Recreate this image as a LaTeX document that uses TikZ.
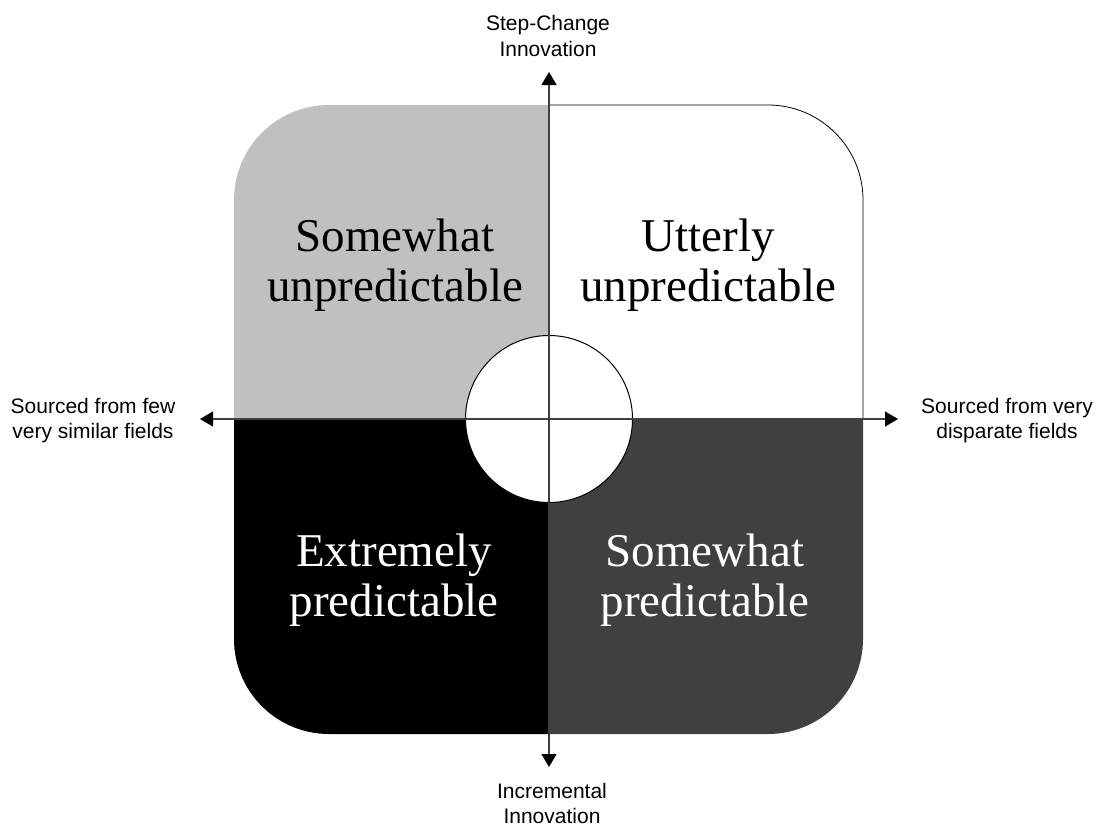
\documentclass[tikz,border=0pt]{standalone}
\usepackage{fontspec}
\setmainfont{Liberation Serif}
\newfontfamily\axisfont{Liberation Sans}
\usetikzlibrary{arrows.meta}
\definecolor{qlight}{HTML}{C0C0C0}
\definecolor{qdark}{HTML}{404040}
\definecolor{axisgray}{HTML}{404040}
\tikzset{
  quadtext/.style={align=center, anchor=base, font=\fontsize{47}{50}\selectfont, inner sep=0pt},
  axislabel/.style={align=center, anchor=base, font=\axisfont\fontsize{21}{25}\selectfont, inner sep=0pt},
  axisarrow/.style={draw=axisgray, line width=1.2pt, -{Triangle[width=15pt,length=13pt,fill=black,color=black]}},
  hub/.style={circle, draw=black, line width=1pt, fill=white, minimum size=167pt, inner sep=0pt}
}
\begin{document}
\begin{tikzpicture}[x=1pt, y=-1pt]
\useasboundingbox (0,0) rectangle (1099,827);
% quadrants
\fill[qlight] (549,419) -- (234,419) -- (234,200) arc[start angle=180, end angle=270, radius=95] -- (549,105) -- cycle;
\fill[white] (549,105) -- (768,105) arc[start angle=270, end angle=360, radius=95] -- (863,419) -- (549,419) -- cycle;
\draw[black, line width=0.8pt] (549,105) -- (768,105) arc[start angle=270, end angle=360, radius=95] -- (863,419);
\fill[black] (549,419) -- (234,419) -- (234,639) arc[start angle=180, end angle=90, radius=95] -- (549,734) -- cycle;
\fill[qdark] (549,419) -- (863,419) -- (863,639) arc[start angle=0, end angle=90, radius=95] -- (549,734) -- cycle;
% centre circle
\node[hub] (c) at (549,419) {};
% axis ends
\coordinate (tN) at (549,72);
\coordinate (tS) at (549,767);
\coordinate (tW) at (200,419);
\coordinate (tE) at (898,419);
\draw[axisarrow] (c.center) -- (tN);
\draw[axisarrow] (c.center) -- (tS);
\draw[axisarrow] (c.center) -- (tW);
\draw[axisarrow] (c.center) -- (tE);
% axis labels (anchored at the baseline of the last line)
\node[axislabel] (lN) at (548,56) {Step-Change\\Innovation};
\node[axislabel] (lS) at (552,823) {Incremental\\Innovation};
\node[axislabel] (lW) at (93,438) {Sourced from few\\very similar fields};
\node[axislabel] (lE) at (1007,438) {Sourced from very\\disparate fields};
% quadrant texts
\node[quadtext, text=black] (q1) at (395,301) {Somewhat\\unpredictable};
\node[quadtext, text=black] (q2) at (708,301) {Utterly\\unpredictable};
\node[quadtext, text=white] (q3) at (394,616) {Extremely\\predictable};
\node[quadtext, text=white] (q4) at (705,616) {Somewhat\\predictable};
\end{tikzpicture}
\end{document}
